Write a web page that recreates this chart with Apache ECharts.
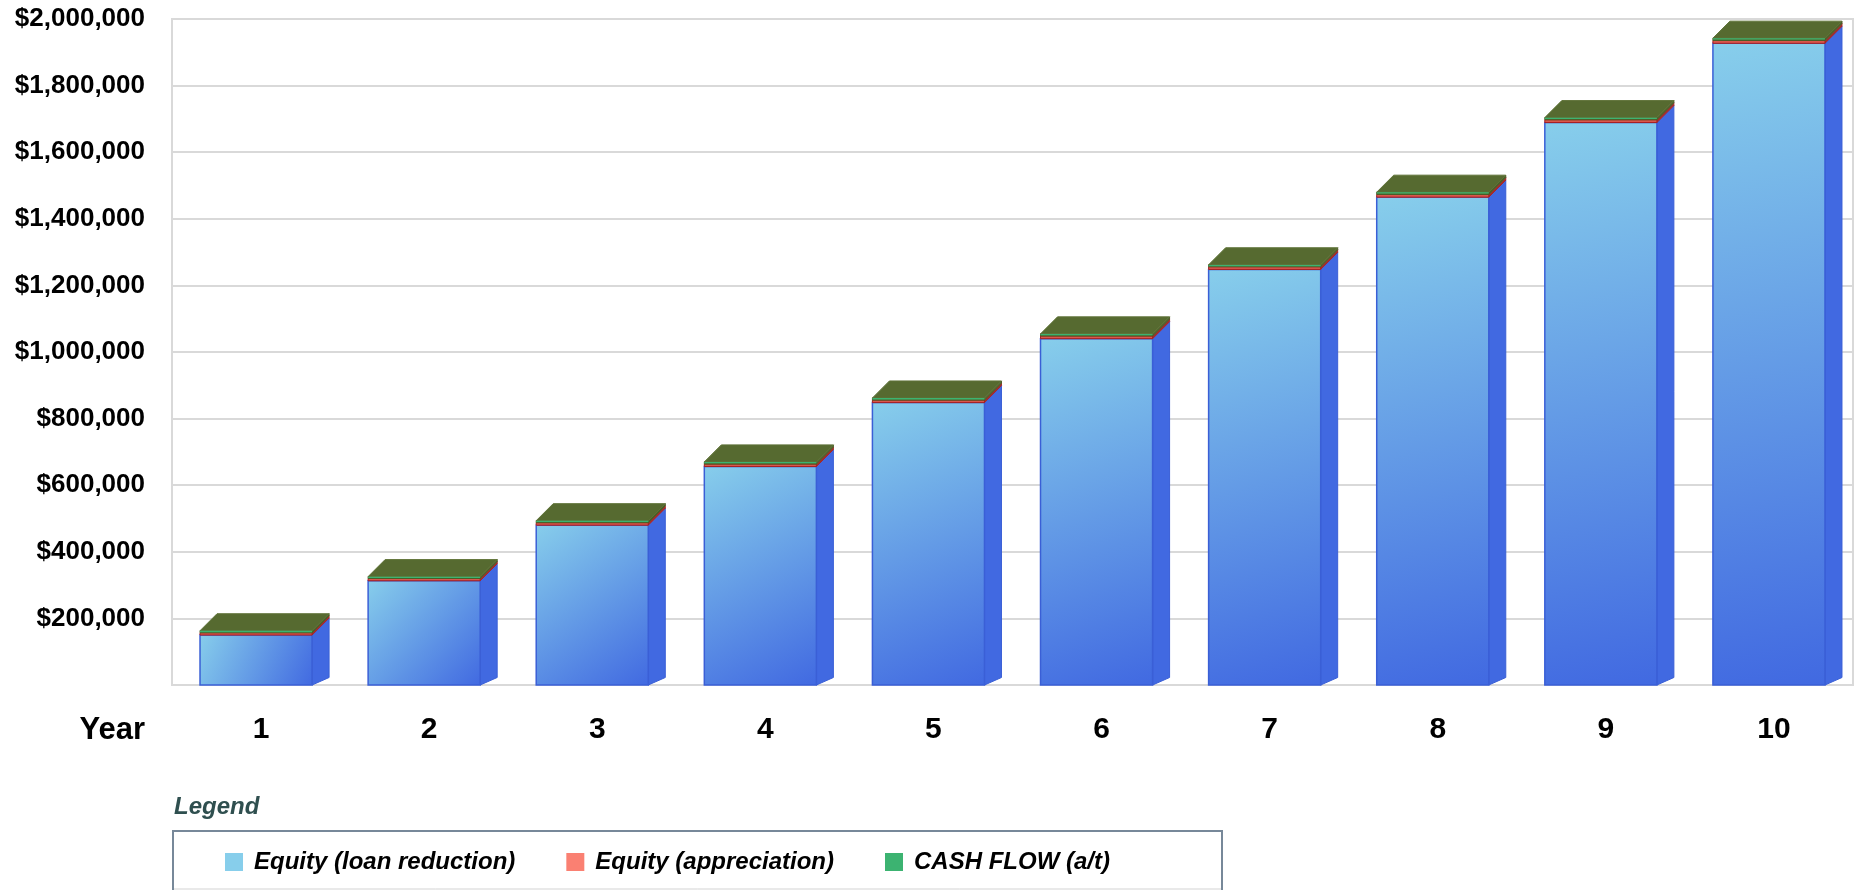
<!DOCTYPE html>
<html>
<head>
<meta charset="utf-8">
<title>Equity and Cash Flow by Year</title>
<script src="https://cdn.jsdelivr.net/npm/echarts@6/dist/echarts.min.js"></script>
<style>
  html, body { margin: 0; padding: 0; background: #ffffff; }
  #chart { width: 1860px; height: 890px; }
</style>
</head>
<body>
<div id="chart"></div>
<script>
// ---- data -------------------------------------------------------------
const years = ['1', '2', '3', '4', '5', '6', '7', '8', '9', '10'];
const loanReduction = [150000, 313000, 480000, 656000, 848000, 1040000, 1248000, 1465000, 1689000, 1927000];
const appreciation  = [7000, 7000, 7500, 7500, 7500, 8000, 8000, 8000, 8500, 8500];
const cashFlow      = [6000, 5500, 6000, 6500, 6500, 6500, 6000, 7000, 6500, 7000];
const seriesNames   = ['Equity (loan reduction)', 'Equity (appreciation)', 'CASH FLOW (a/t)'];
const legendColors  = ['#87CEEB', '#FA8072', '#3CB371'];
const yMax = 2000000;
const yStep = 200000;

// ---- stacked ranges [category, low, high] ---------------------------
function stackRanges(values, below) {
  return values.map((v, i) => {
    const lo = below ? below[i] : 0;
    return [i, lo, lo + v];
  });
}
const blueRanges  = stackRanges(loanReduction, null);
const redRanges   = stackRanges(appreciation, blueRanges.map(r => r[2]));
const greenRanges = stackRanges(cashFlow, redRanges.map(r => r[2]));

// ---- 3-D box drawing ---------------------------------------------------
const DEPTH = 17;
const looks = {
  base: {
    front: () => new echarts.graphic.LinearGradient(0, 0, 1, 1, [
      { offset: 0, color: '#87CEEB' },
      { offset: 1, color: '#4169E1' }
    ]),
    frontStroke: '#3A5FD6', side: '#4169E1', sideStroke: '#3A5FD6'
  },
  mid: {
    front: () => '#D9574C', frontStroke: '#A81E1E', side: '#A52A2A', sideStroke: '#A52A2A'
  },
  top: {
    front: () => '#556B2F', frontStroke: '#4A5E27', side: '#4B5F28', sideStroke: '#4A5E27',
    edge: '#3CB371', lid: '#566A30', lidStroke: '#5F7338'
  }
};

function boxRenderer(kind) {
  const look = looks[kind];
  return function (params, api) {
    const cat = api.value(0);
    const pLo = api.coord([cat, api.value(1)]);
    const pHi = api.coord([cat, api.value(2)]);
    const w = api.size([1, 0])[0] * 2 / 3;
    const x1 = pLo[0] - w / 2, x2 = pLo[0] + w / 2;
    const yB = pLo[1], yT = pHi[1];
    const d = DEPTH;
    const lift = kind === 'base' ? 7.5 : d;
    const children = [];
    children.push({
      type: 'polygon',
      shape: { points: [[x2, yT], [x2 + d, yT - d], [x2 + d, yB - lift], [x2, yB]] },
      style: { fill: look.side, stroke: look.sideStroke, lineWidth: 1 }
    });
    children.push({
      type: 'rect',
      shape: { x: x1, y: yT, width: w, height: yB - yT },
      style: { fill: look.front(), stroke: look.frontStroke, lineWidth: kind === 'base' ? 1.5 : 1 }
    });
    if (kind === 'top') {
      children.push({
        type: 'polygon',
        shape: { points: [[x1, yT], [x1 + d, yT - d], [x2 + d, yT - d], [x2, yT]] },
        style: { fill: look.lid, stroke: look.lidStroke, lineWidth: 1 }
      });
      children.push({
        type: 'line',
        shape: { x1: x1, y1: yT + 0.8, x2: x2, y2: yT + 0.8 },
        style: { stroke: look.edge, lineWidth: 1.3 }
      });
    }
    return { type: 'group', children: children };
  };
}

function boxSeries(name, color, ranges, kind) {
  return {
    name: name,
    type: 'custom',
    renderItem: boxRenderer(kind),
    itemStyle: { color: color },
    encode: { x: 0, y: [1, 2] },
    clip: false,
    data: ranges
  };
}

// ---- chart -------------------------------------------------------------
const FONT = '"Liberation Sans", Arial, Helvetica, sans-serif';
const chart = echarts.init(document.getElementById('chart'), null, { renderer: 'canvas' });

chart.setOption({
  animation: false,
  backgroundColor: '#ffffff',
  grid: {
    left: 172, right: 7, top: 19, bottom: 205,
    show: true, borderColor: '#D9D9D9', borderWidth: 2, backgroundColor: 'transparent'
  },
  xAxis: {
    type: 'category',
    data: years,
    axisLine: { show: true, lineStyle: { color: '#D9D9D9', width: 2 } },
    axisTick: { show: false },
    axisLabel: {
      color: '#000000', fontFamily: FONT, fontWeight: 'bold', fontSize: 30,
      lineHeight: 30, margin: 30, padding: [0, 0, 0, 10]
    }
  },
  yAxis: {
    type: 'value',
    min: 0, max: yMax, interval: yStep,
    axisLine: { show: true, lineStyle: { color: '#D9D9D9', width: 2 } },
    axisTick: { show: false },
    splitLine: { lineStyle: { color: '#D9D9D9', width: 2 } },
    axisLabel: {
      color: '#000000', fontFamily: FONT, fontWeight: 'bold', fontSize: 26, margin: 27,
      formatter: v => v === 0 ? '' : '$' + v.toLocaleString('en-US')
    }
  },
  legend: {
    left: 220, top: 845,
    itemWidth: 18, itemHeight: 18, itemGap: 51,
    selectedMode: false,
    data: seriesNames.map((n, i) => ({ name: n, icon: 'rect', itemStyle: { color: legendColors[i] } })),
    textStyle: {
      color: '#000000', fontFamily: FONT, fontWeight: 'bold', fontStyle: 'italic',
      fontSize: 24, lineHeight: 24, padding: [0, 0, 0, 6]
    }
  },
  graphic: [
    {
      type: 'text',
      x: 145, y: 730,
      style: {
        text: 'Year', fill: '#000000', font: 'bold 31px ' + FONT,
        textAlign: 'right', textVerticalAlign: 'middle'
      }
    },
    {
      type: 'text',
      x: 174, y: 807,
      style: {
        text: 'Legend', fill: '#2F4F4F', font: 'italic bold 24px ' + FONT,
        textAlign: 'left', textVerticalAlign: 'middle'
      }
    },
    {
      type: 'rect',
      shape: { x: 173, y: 831, width: 1049, height: 80 },
      style: { fill: 'none', stroke: '#778899', lineWidth: 2 }
    },
    {
      type: 'line',
      shape: { x1: 174, y1: 889, x2: 1221, y2: 889 },
      style: { stroke: '#D3D3D3', lineWidth: 1 }
    }
  ],
  series: [
    boxSeries(seriesNames[0], legendColors[0], blueRanges, 'base'),
    boxSeries(seriesNames[1], legendColors[1], redRanges, 'mid'),
    boxSeries(seriesNames[2], legendColors[2], greenRanges, 'top')
  ]
});
</script>
</body>
</html>
